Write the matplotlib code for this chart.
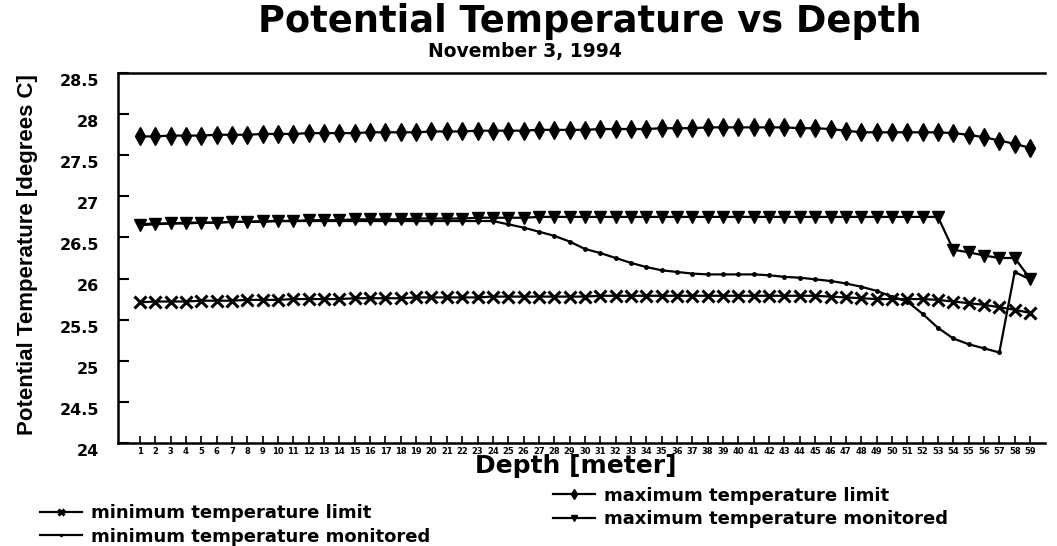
import matplotlib
matplotlib.use("Agg")
import matplotlib.pyplot as plt
from matplotlib.transforms import ScaledTranslation
import numpy as np

plt.rcParams['font.family'] = ['DejaVu Sans']

depth = np.arange(1, 60)

min_limit = [25.71, 25.72, 25.72, 25.72, 25.73, 25.73, 25.73, 25.74, 25.74, 25.74,
             25.75, 25.75, 25.75, 25.75, 25.76, 25.76, 25.76, 25.76, 25.77, 25.77,
             25.77, 25.77, 25.77, 25.78, 25.78, 25.78, 25.78, 25.78, 25.78, 25.78,
             25.79, 25.79, 25.79, 25.79, 25.79, 25.79, 25.79, 25.79, 25.79, 25.79,
             25.79, 25.79, 25.79, 25.79, 25.79, 25.78, 25.77, 25.76, 25.75, 25.75,
             25.75, 25.75, 25.74, 25.72, 25.70, 25.68, 25.65, 25.62, 25.58]

max_limit = [27.73, 27.73, 27.74, 27.74, 27.74, 27.75, 27.75, 27.75, 27.76, 27.76,
             27.76, 27.77, 27.77, 27.77, 27.77, 27.78, 27.78, 27.78, 27.78, 27.79,
             27.79, 27.79, 27.80, 27.80, 27.80, 27.80, 27.81, 27.81, 27.81, 27.81,
             27.82, 27.82, 27.82, 27.82, 27.83, 27.83, 27.83, 27.84, 27.84, 27.84,
             27.84, 27.84, 27.84, 27.83, 27.83, 27.82, 27.80, 27.78, 27.78, 27.78,
             27.78, 27.78, 27.78, 27.77, 27.75, 27.72, 27.68, 27.64, 27.59]

min_monitored = [26.66, 26.67, 26.67, 26.68, 26.68, 26.68, 26.69, 26.69, 26.69, 26.70,
                 26.70, 26.70, 26.70, 26.70, 26.70, 26.70, 26.70, 26.70, 26.70, 26.70,
                 26.70, 26.70, 26.70, 26.70, 26.66, 26.62, 26.57, 26.52, 26.45, 26.36,
                 26.31, 26.25, 26.19, 26.14, 26.10, 26.08, 26.06, 26.05, 26.05, 26.05,
                 26.05, 26.04, 26.02, 26.01, 25.99, 25.97, 25.94, 25.90, 25.85, 25.78,
                 25.72, 25.57, 25.40, 25.27, 25.20, 25.15, 25.10, 26.08, 25.99]

max_monitored = [26.65, 26.66, 26.67, 26.67, 26.68, 26.68, 26.69, 26.69, 26.70, 26.70,
                 26.70, 26.71, 26.71, 26.71, 26.72, 26.72, 26.72, 26.72, 26.73, 26.73,
                 26.73, 26.73, 26.74, 26.74, 26.74, 26.74, 26.75, 26.75, 26.75, 26.75,
                 26.75, 26.75, 26.75, 26.75, 26.75, 26.75, 26.75, 26.75, 26.75, 26.75,
                 26.75, 26.75, 26.75, 26.75, 26.75, 26.75, 26.75, 26.75, 26.75, 26.75,
                 26.75, 26.75, 26.75, 26.35, 26.32, 26.28, 26.25, 26.25, 26.00]

yticks = [24, 24.5, 25, 25.5, 26, 26.5, 27, 27.5, 28, 28.5]
ytick_labels = ['24', '24.5', '25', '25.5', '26', '26.5', '27', '27.5', '28', '28.5']

fig = plt.figure(figsize=(10.57, 5.46), dpi=100)
ax = fig.add_axes([0.112, 0.189, 0.877, 0.677])

l1, = ax.plot(depth, min_limit, color='black', lw=1.6, marker='x', ms=8, mew=2.2)
l2, = ax.plot(depth, min_monitored, color='black', lw=1.6, marker='o', ms=2.5)
l3, = ax.plot(depth, max_limit, color='black', lw=1.6, marker='d', ms=9)
l4, = ax.plot(depth, max_monitored, color='black', lw=1.6, marker='v', ms=8)

ax.set_xlim(-0.4, 60)
ax.set_ylim(24, 28.5)
ax.set_yticks(yticks)
ax.set_yticklabels(ytick_labels, fontsize=11.5, fontweight='bold')
ax.set_xticks(depth)
ax.set_xticklabels([str(d) for d in depth], fontsize=6, fontweight='heavy')
ax.tick_params(axis='y', direction='in', length=8, width=1.5, pad=14)
ax.tick_params(axis='x', direction='in', length=5, width=1.2, pad=3)
# labels sit a little below their ticks in the original
shift = ScaledTranslation(0, -5 / 72, fig.dpi_scale_trans)
for lab in ax.get_yticklabels():
    lab.set_transform(lab.get_transform() + shift)
for s in ax.spines.values():
    s.set_linewidth(1.8)
ax.spines['right'].set_visible(False)

fig.text(0.545, 1 - 466 / 546, 'Depth [meter]', ha='center', va='center',
         fontsize=18, fontweight='bold')
fig.text(0.026, 1 - 255 / 546, 'Potential Temperature [degrees C]', ha='center', va='center',
         rotation=90, fontsize=16, fontweight='bold', family='Liberation Sans')

fig.text(0.558, 1 - 22 / 546, 'Potential Temperature vs Depth', ha='center', va='center',
         fontsize=26.5, fontweight='bold')
fig.text(0.497, 1 - 51 / 546, 'November 3, 1994', ha='center', va='center',
         fontsize=13.5, fontweight='bold')

common = dict(frameon=False, prop={'weight': 'bold', 'size': 13}, handlelength=2.3,
              markerscale=0.6, labelspacing=0.3, handletextpad=0.55,
              borderpad=0, borderaxespad=0, loc='center left')
fig.legend([l1, l2], ['minimum temperature limit', 'minimum temperature monitored'],
           bbox_to_anchor=(40 / 1057, 1 - 525 / 546), **common)
fig.legend([l3, l4], ['maximum temperature limit', 'maximum temperature monitored'],
           bbox_to_anchor=(553 / 1057, 1 - 507.5 / 546), **common)

fig.savefig('out.png', dpi=100, facecolor='white')
